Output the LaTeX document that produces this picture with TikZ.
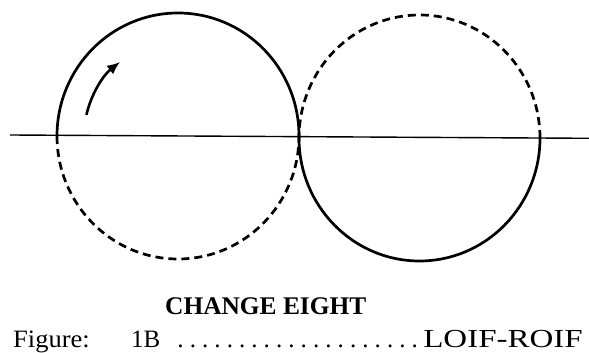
\documentclass[tikz,border=0pt]{standalone}
\usepackage{fontspec}
\usepackage{graphicx}
\setmainfont{Liberation Serif}
\usetikzlibrary{arrows.meta}
\tikzset{
  solidarc/.style={line width=2.7pt},
  dasharc/.style={line width=2.7pt, dash pattern=on 8pt off 5pt},
  axisline/.style={line width=1.4pt},
  txt/.style={inner sep=0pt, font=\fontsize{25}{30}\selectfont},
  boldtxt/.style={inner sep=0pt, font=\fontsize{25.4}{30}\selectfont\bfseries}
}
\begin{document}
\begin{tikzpicture}[x=1pt,y=1pt]
\useasboundingbox (0,0) rectangle (589,353);
% centres
\coordinate (cl) at (178,217);
\coordinate (cr) at (419.5,215);
\coordinate (la) at (10,218);
\coordinate (lb) at (589,214.7);
% axis
\draw[axisline] (la) -- (lb);
% left circle: top solid, bottom dashed
\draw[solidarc] ([shift={(0:121 and 123)}]cl) arc[start angle=0,end angle=180,x radius=121,y radius=123];
\draw[dasharc] ([shift={(180:121 and 123)}]cl) arc[start angle=180,end angle=360,x radius=121,y radius=123];
% right circle: top dashed, bottom solid
\draw[dasharc] ([shift={(0:120.5 and 123)}]cr) arc[start angle=0,end angle=180,x radius=120.5,y radius=123];
\draw[solidarc] ([shift={(180:120.5 and 123)}]cr) arc[start angle=180,end angle=360,x radius=120.5,y radius=123];
% direction arrow
\draw[line width=2.6pt,-{Latex[length=13pt,width=11pt]}] ([shift={(167:94)}]cl) arc[start angle=167,end angle=128,radius=94];
% texts
\node[boldtxt, anchor=base west] (head) at (165,38) {CHANGE EIGHT};
\node[txt, anchor=base west] (fig) at (13,5) {\scalebox{1.06}[1]{Figure:}};
\node[txt, anchor=base west] (num) at (131,5) {1B};
\node[txt, anchor=base west] (dots) at (174,5) {\hbox to 247pt{\xleaders\hbox to 11.9pt{\hfil.\hfil}\hfill}};
\node[txt, anchor=base east] (name) at (583,5) {\scalebox{1.32}[1.04]{LOIF-ROIF}};
\end{tikzpicture}
\end{document}
